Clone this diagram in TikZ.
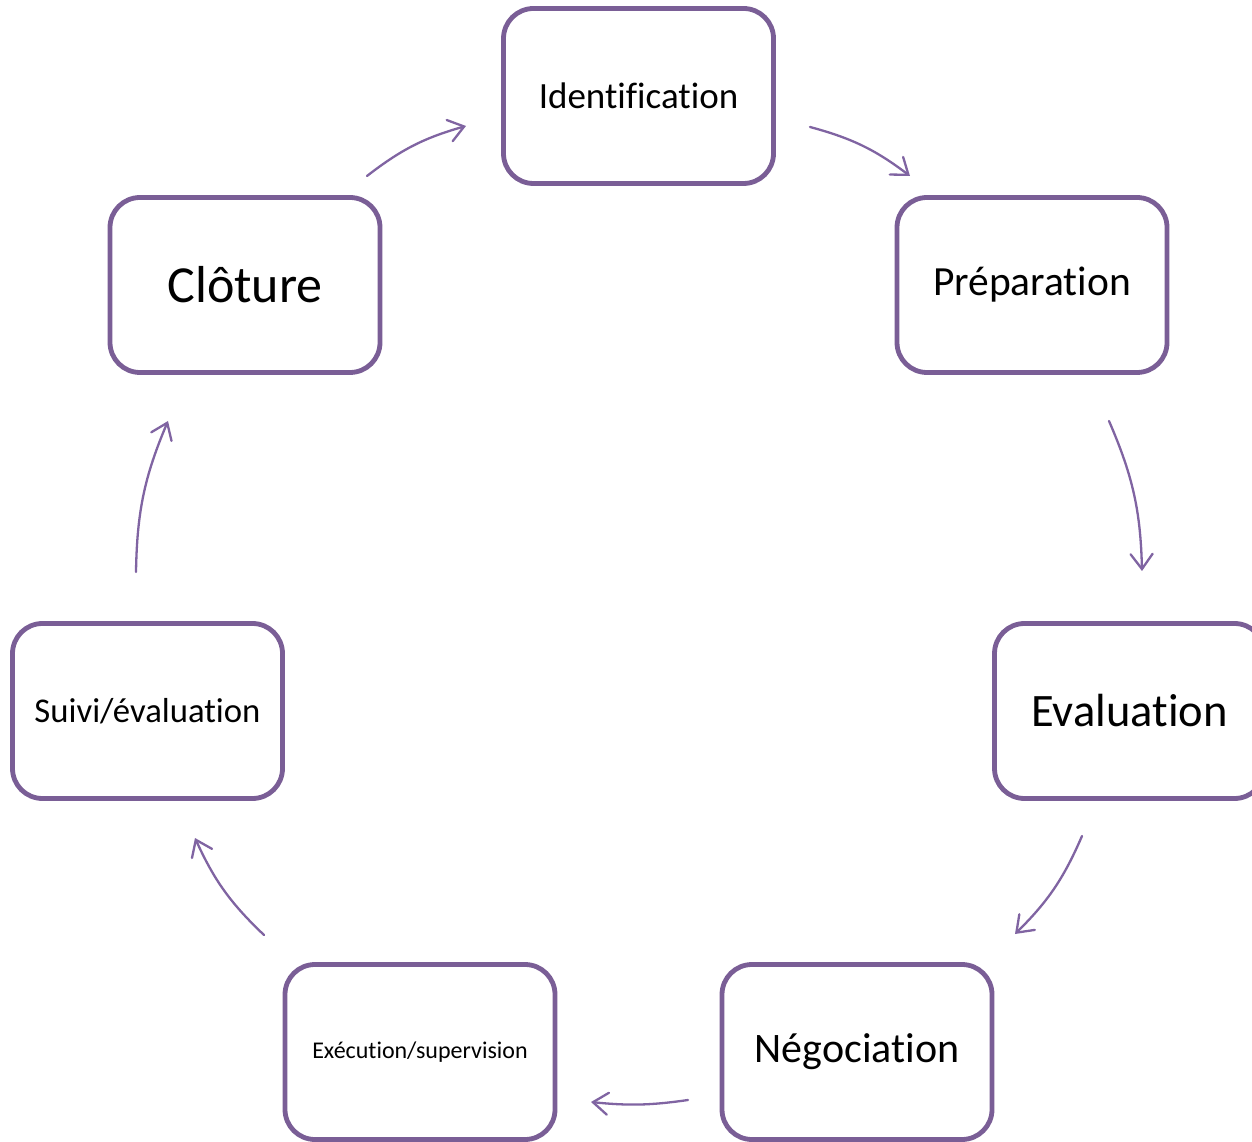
\documentclass[tikz,border=0pt]{standalone}
\usepackage{fontspec}
\setmainfont{Carlito}[RawFeature={-liga;-clig;-calt;-dlig}]
\usetikzlibrary{arrows.meta}
\definecolor{boxcol}{RGB}{122,94,150}
\definecolor{arrcol}{RGB}{128,100,162}
\tikzset{
  stage/.style={draw=boxcol, line width=4.8pt, rounded corners=30pt, fill=white,
    minimum width=270pt, minimum height=175pt, inner sep=0pt, text=black},
  flow/.style={draw=arrcol, line width=2.3pt, line cap=round,
    -{Straight Barb[length=15pt,width=22pt,line cap=round]}, bend left=11},
  fs/.style={font=\fontsize{#1}{#1}\selectfont}
}
\begin{document}
\begin{tikzpicture}[x=1pt,y=1pt]
\useasboundingbox (0,0) rectangle (1252,1141);
\fill[white] (0,0) rectangle (1252,1141);
\node[stage, fs=37] (ident) at (638.5,1045) {Identif\kern0pt icat\kern0pt ion};
\node[stage, fs=41.5] (prep) at (1032,856) {Préparat\kern0pt ion};
\node[stage, fs=46.5] (eval) at (1129.5,430) {Evaluat\kern0pt ion};
\node[stage, fs=42] (nego) at (857,89) {Négociat\kern0pt ion};
\node[stage, fs=24] (exec) at (420,89) {Exécut\kern0pt ion/supervision};
\node[stage, fs=34.7] (suivi) at (147.5,430) {Suivi/évaluat\kern0pt ion};
\node[stage, fs=52] (clot) at (245,856) {Clôture};
% arrow end points
\coordinate (a1s) at (367,965); \coordinate (a1e) at (466,1015);
\coordinate (a2s) at (810,1014); \coordinate (a2e) at (910,965);
\coordinate (a3s) at (1109,720); \coordinate (a3e) at (1142,570);
\coordinate (a4s) at (1082,305); \coordinate (a4e) at (1015,207);
\coordinate (a5s) at (688,41); \coordinate (a5e) at (591,39);
\coordinate (a6s) at (264,206); \coordinate (a6e) at (195,303);
\coordinate (a7s) at (136,569); \coordinate (a7e) at (168,720);
\draw[flow] (a1s) to (a1e);
\draw[flow] (a2s) to (a2e);
\draw[flow] (a3s) to (a3e);
\draw[flow] (a4s) to (a4e);
\draw[flow, bend left=7] (a5s) to (a5e);
\draw[flow] (a6s) to (a6e);
\draw[flow] (a7s) to (a7e);
\end{tikzpicture}
\end{document}
